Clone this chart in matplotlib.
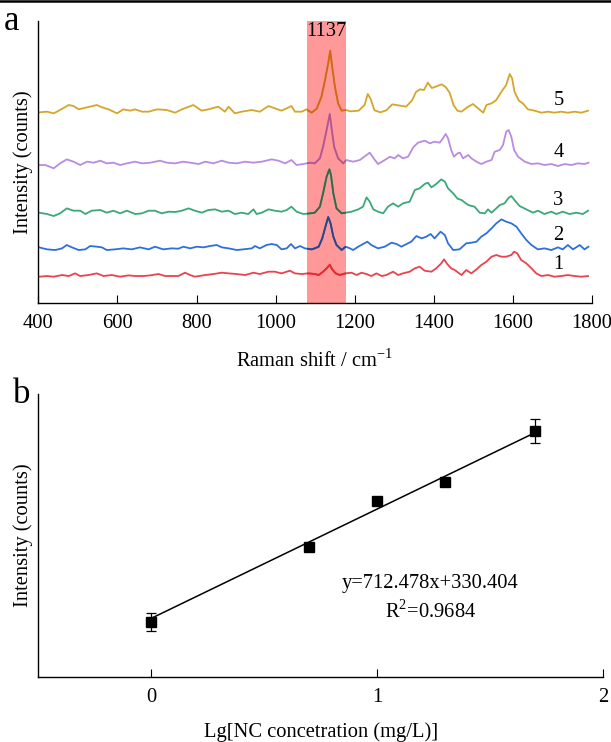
import matplotlib
matplotlib.use("Agg")
import matplotlib.pyplot as plt
from matplotlib.patches import Rectangle
from matplotlib.lines import Line2D
from matplotlib.colors import to_rgb

plt.rcParams['font.family'] = ['Liberation Serif', 'DejaVu Serif']
plt.rcParams['mathtext.fontset'] = 'custom'
plt.rcParams['mathtext.rm'] = 'Liberation Serif'

# ---------------- Panel a: SERS spectra (arbitrary counts, offset) ----------------
x1 = [402, 422, 439, 460, 477, 493, 506, 527, 548, 565, 586, 607, 628, 645, 666, 683, 704, 721, 737, 754,
      771, 784, 796, 822, 843, 864, 881, 902, 923, 944, 960, 982, 998, 1015, 1036, 1049, 1066, 1083, 1099,
      1109, 1120, 1129, 1137, 1143, 1152, 1162, 1177, 1192, 1205, 1217, 1230, 1242, 1255, 1268, 1280, 1297,
      1310, 1322, 1339, 1352, 1364, 1377, 1394, 1406, 1419, 1426, 1434, 1444, 1453, 1470, 1482, 1495, 1508,
      1520, 1533, 1546, 1558, 1571, 1583, 1596, 1603, 1611, 1621, 1634, 1647, 1659, 1672, 1689, 1705, 1722,
      1739, 1756, 1773, 1790]
y1 = [76, 78, 76, 81, 78, 86, 78, 81, 86, 78, 81, 76, 80, 78, 78, 80, 84, 78, 78, 78,
      88, 81, 76, 81, 84, 88, 86, 84, 81, 88, 84, 91, 91, 86, 94, 86, 84, 86, 84,
      81, 91, 101, 112, 98, 86, 81, 86, 88, 81, 88, 84, 78, 86, 78, 81, 91,
      81, 86, 91, 101, 106, 94, 91, 101, 116, 128, 114, 101, 96, 81, 96, 86, 98,
      111, 121, 136, 141, 136, 136, 141, 151, 146, 126, 116, 101, 86, 78, 81, 76, 78,
      81, 78, 76, 78]

x2 = [402, 422, 443, 460, 472, 485, 502, 519, 531, 548, 561, 573, 594, 615, 636, 657, 679, 695, 716, 737,
      754, 767, 784, 801, 818, 834, 851, 864, 881, 902, 918, 940, 948, 960, 977, 990, 1003, 1015, 1028,
      1039, 1049, 1062, 1074, 1091, 1099, 1109, 1118, 1126, 1133, 1139, 1146, 1154, 1167, 1177, 1188, 1196,
      1209, 1221, 1232, 1242, 1259, 1276, 1293, 1306, 1318, 1331, 1343, 1356, 1369, 1381, 1392, 1402, 1417,
      1428, 1436, 1449, 1465, 1482, 1495, 1508, 1520, 1533, 1546, 1558, 1571, 1583, 1596, 1609, 1621, 1634,
      1647, 1663, 1680, 1697, 1714, 1726, 1739, 1752, 1769, 1781, 1791]
y2 = [164, 158, 156, 161, 171, 164, 156, 158, 168, 166, 164, 156, 158, 161, 158, 164, 158, 166, 158, 161,
      160, 166, 161, 166, 164, 168, 171, 164, 161, 156, 158, 161, 168, 161, 171, 174, 171, 158, 161,
      174, 161, 168, 161, 158, 161, 166, 191, 226, 255, 236, 196, 171, 156, 166, 161, 156,
      166, 174, 181, 171, 161, 166, 178, 174, 166, 174, 181, 198, 191, 196, 204, 191, 211,
      201, 176, 156, 158, 176, 178, 181, 196, 206, 221, 236, 248, 241, 236, 226, 206, 186,
      171, 158, 161, 156, 164, 158, 171, 158, 171, 158, 166]

x3 = [402, 422, 439, 455, 472, 489, 506, 519, 535, 557, 573, 590, 607, 624, 645, 662, 679, 695, 712, 729,
      746, 763, 780, 796, 813, 830, 847, 864, 881, 897, 914, 931, 944, 952, 965, 982, 998, 1015, 1028,
      1040, 1053, 1070, 1087, 1099, 1112, 1120, 1129, 1136, 1140, 1146, 1154, 1167, 1177, 1192, 1209, 1221,
      1230, 1238, 1247, 1259, 1272, 1284, 1297, 1310, 1322, 1339, 1352, 1364, 1377, 1385, 1394, 1406, 1419,
      1428, 1436, 1449, 1460, 1470, 1487, 1503, 1516, 1529, 1537, 1546, 1558, 1567, 1579, 1588, 1596, 1604,
      1617, 1634, 1651, 1663, 1680, 1697, 1710, 1726, 1743, 1760, 1777, 1790]
y3 = [268, 264, 258, 266, 281, 274, 274, 264, 274, 276, 268, 274, 266, 274, 264, 266, 274, 274, 266, 271,
      270, 274, 281, 274, 268, 276, 278, 271, 274, 264, 268, 264, 278, 264, 268, 278, 274, 271, 276,
      286, 271, 264, 266, 268, 286, 326, 376, 398, 381, 326, 281, 266, 268, 271, 278, 286,
      314, 301, 278, 271, 266, 286, 296, 286, 296, 301, 336, 341, 354, 358, 344, 354, 368,
      361, 341, 326, 310, 306, 291, 286, 268, 266, 278, 268, 281, 291, 296, 311, 318, 306,
      288, 278, 268, 274, 264, 271, 264, 271, 264, 268, 264, 274]

x4 = [402, 418, 439, 455, 472, 489, 506, 523, 540, 557, 573, 590, 607, 624, 645, 662, 683, 708, 725, 746,
      767, 784, 805, 822, 843, 864, 881, 902, 923, 944, 965, 990, 1007, 1024, 1040, 1053, 1070, 1087, 1099,
      1112, 1120, 1129, 1137, 1141, 1148, 1158, 1171, 1179, 1196, 1213, 1230, 1238, 1251, 1259, 1276, 1289,
      1301, 1310, 1322, 1335, 1348, 1360, 1377, 1390, 1402, 1415, 1423, 1430, 1436, 1444, 1451, 1460, 1466,
      1474, 1487, 1495, 1508, 1520, 1533, 1546, 1554, 1567, 1575, 1583, 1589, 1596, 1603, 1613, 1630, 1647,
      1663, 1680, 1697, 1714, 1731, 1748, 1764, 1781, 1791]
y4 = [411, 411, 401, 416, 428, 421, 411, 421, 418, 424, 416, 418, 411, 416, 421, 416, 418, 424, 418, 416,
      421, 418, 414, 421, 416, 424, 418, 416, 421, 418, 421, 428, 424, 416, 426, 411, 414, 418, 416,
      431, 466, 516, 564, 526, 466, 431, 416, 426, 421, 426, 441, 448, 426, 414, 426, 436,
      431, 441, 431, 436, 464, 478, 484, 476, 481, 478, 491, 504, 491, 456, 436, 446, 448,
      431, 441, 431, 421, 414, 421, 426, 451, 456, 471, 511, 516, 496, 456, 436, 421, 414,
      416, 411, 414, 408, 414, 411, 416, 414, 418]

x5 = [402, 422, 439, 455, 477, 489, 502, 523, 548, 561, 578, 599, 615, 632, 645, 662, 679, 700, 725, 746,
      763, 792, 813, 830, 855, 872, 881, 897, 914, 940, 960, 982, 998, 1015, 1028, 1040, 1049, 1066, 1078,
      1091, 1104, 1116, 1125, 1133, 1138, 1143, 1150, 1158, 1167, 1177, 1190, 1210, 1225, 1233, 1240, 1250,
      1265, 1280, 1295, 1310, 1330, 1345, 1355, 1365, 1375, 1385, 1395, 1405, 1420, 1430, 1440, 1450, 1460,
      1470, 1487, 1499, 1512, 1525, 1533, 1546, 1558, 1571, 1583, 1592, 1598, 1604, 1615, 1625, 1638, 1655,
      1672, 1689, 1705, 1722, 1739, 1756, 1773, 1790]
y5 = [569, 571, 566, 576, 591, 588, 578, 584, 591, 584, 578, 566, 578, 574, 578, 571, 571, 578, 576, 568,
      578, 591, 574, 578, 586, 571, 586, 566, 571, 576, 571, 588, 581, 574, 581, 588, 571, 571, 578,
      568, 580, 616, 666, 716, 754, 706, 646, 596, 574, 576, 572, 574, 591, 624, 610, 575,
      569, 575, 593, 590, 586, 605, 630, 638, 636, 658, 642, 646, 653, 645, 628, 590, 574,
      571, 586, 594, 581, 568, 591, 596, 606, 631, 651, 684, 671, 631, 604, 596, 578, 574,
      568, 571, 568, 571, 568, 571, 568, 574]

spectra_x = [x1, x2, x3, x4, x5]
spectra_y = [y1, y2, y3, y4, y5]
spectra_labels = ['1', '2', '3', '4', '5']
label_pos_y = [113, 201, 306, 448, 606]
spectra_colors = ['#E8434F', '#2E6FDA', '#3BA878', '#B98BE2', '#D5A62B']
band_range = (1080, 1177)
band_label = '1137'

# ---------------- Panel b: calibration ----------------
lg_conc = [0, 0.699, 1.0, 1.301, 1.699]
intensity = [308, 797, 1095, 1217, 1552]
errors = [57, 0, 0, 0, 78]
slope, intercept = 712.478, 330.404
eq_text = 'y=712.478x+330.404'
r2_text = 'R$^{2}$=0.9684'

FS = 14.8
W, H = 611, 742
fig = plt.figure(figsize=(W / 100, H / 100), dpi=100)

band_rgb = to_rgb('#FF9999')

ax1 = fig.add_axes([38.3 / W, 1 - 302.7 / H, (592 - 38.3) / W, (302.7 - 21) / H])
band = Rectangle((band_range[0], -2), band_range[1] - band_range[0], 845, facecolor=band_rgb,
                 edgecolor='none', zorder=1)
ax1.add_patch(band)
for xs, ys, c in zip(spectra_x, spectra_y, spectra_colors):
    ax1.plot(xs, ys, color=c, lw=1.3, zorder=2)
    rgb = to_rgb(c)
    mult = tuple(a * b for a, b in zip(rgb, band_rgb))
    ln, = ax1.plot(xs, ys, color=mult, lw=1.3, zorder=3)
    ln.set_clip_path(band)
for lab, yy in zip(spectra_labels, label_pos_y):
    ax1.text(1715, yy, lab, fontsize=FS, ha='center', va='center')
ax1.text(sum(band_range) / 2, 840, band_label, fontsize=FS, ha='center', va='top', zorder=4)
ax1.set_xlim(400, 1800)
ax1.set_ylim(-2, 843)
ax1.set_xticks([400, 600, 800, 1000, 1200, 1400, 1600, 1800])
ax1.set_yticks([])
ax1.tick_params(axis='x', direction='in', length=6, width=0.8, labelsize=FS, pad=8)
for s in ['top', 'right']:
    ax1.spines[s].set_visible(False)
for s in ['left', 'bottom']:
    ax1.spines[s].set_linewidth(1.0)
ax1.set_xlabel('Raman shift / cm$^{-1}$', fontsize=FS, labelpad=12)
ax1.set_ylabel('Intensity (counts)', fontsize=FS, labelpad=4)
fig.text(4 / W, 1 - 30 / H, 'a', fontsize=25)

ax2 = fig.add_axes([38.3 / W, 1 - 676.7 / H, (603 - 38.3) / W, (676.7 - 394) / H])
xfit = [lg_conc[0], lg_conc[-1]]
ax2.plot(xfit, [slope * v + intercept for v in xfit], color='black', lw=1.1, zorder=2)
ax2.errorbar(lg_conc, intensity, yerr=errors, fmt='s', color='black', ms=7.5, capsize=3.5,
             elinewidth=0.9, capthick=0.9, zorder=3)
ax2.text(1.236, 560, eq_text, fontsize=FS, ha='center', va='center')
ax2.text(1.236, 378, r2_text, fontsize=FS, ha='center', va='center')
ax2.set_xlim(-0.5, 2)
ax2.set_ylim(-50, 1793)
ax2.set_xticks([0, 1, 2])
ax2.set_yticks([])
ax2.tick_params(axis='x', direction='in', length=6, width=0.8, labelsize=FS, pad=8)
for s in ['top', 'right']:
    ax2.spines[s].set_visible(False)
for s in ['left', 'bottom']:
    ax2.spines[s].set_linewidth(1.0)
ax2.set_xlabel('Lg[NC concetration (mg/L)]', fontsize=FS, labelpad=11)
ax2.set_ylabel('Intensity (counts)', fontsize=FS, labelpad=4)
fig.text(13 / W, 1 - 403 / H, 'b', fontsize=25)

fig.add_artist(Line2D([0, 1], [1 - 1.2 / H, 1 - 1.2 / H], transform=fig.transFigure,
                      color='black', lw=1.8))

fig.savefig('out.png', dpi=100)
